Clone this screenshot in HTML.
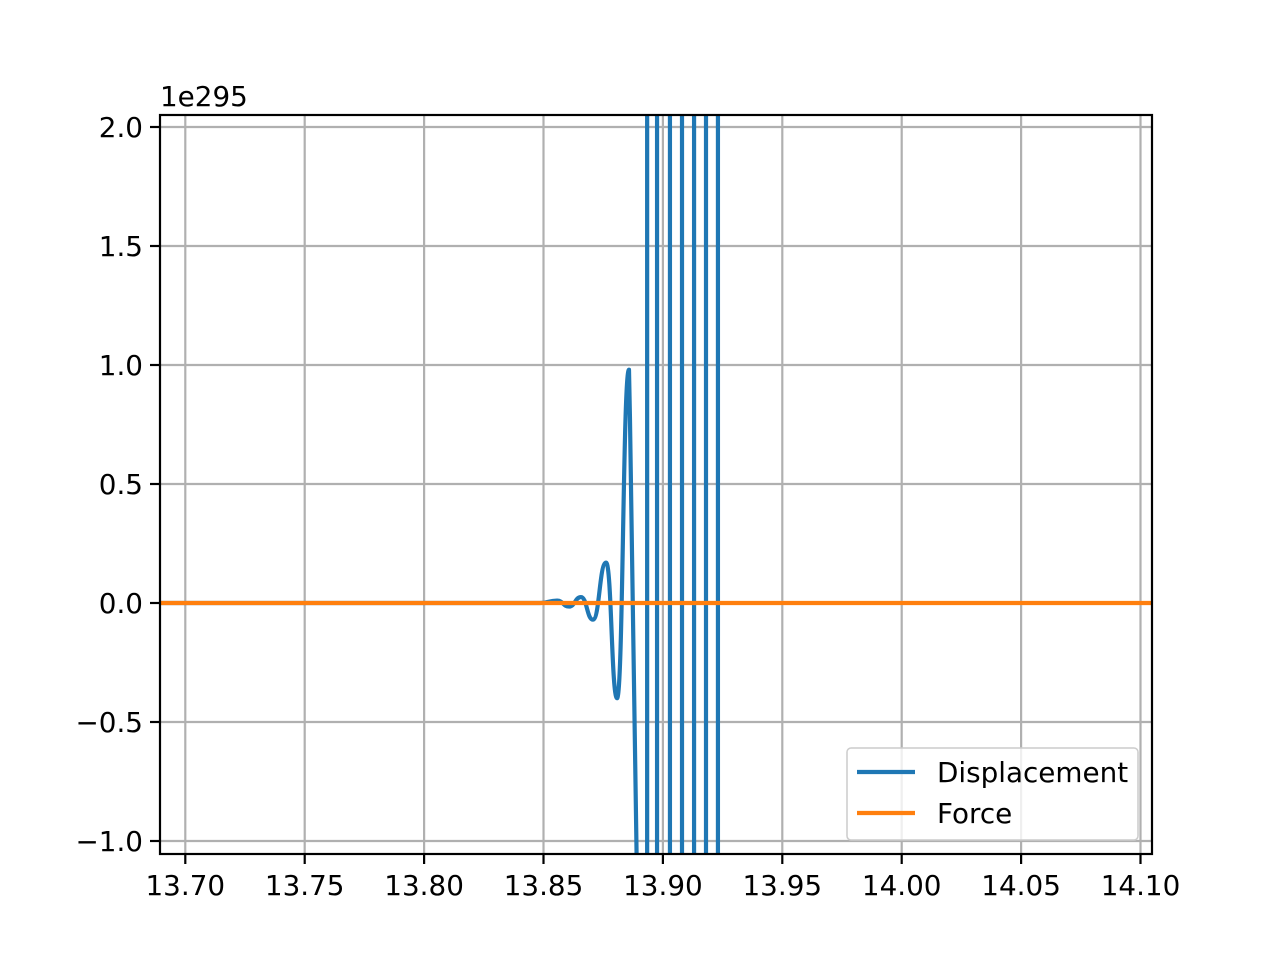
<!DOCTYPE html>
<html><head><meta charset="utf-8"><style>
html,body{margin:0;padding:0;background:#fff;overflow:hidden;width:1280px;height:960px}
svg{display:block}
svg text{font-family:"DejaVu Sans","Liberation Sans",sans-serif;font-size:27.8px;fill:#000}
</style></head><body>
<svg id="chart" width="1280" height="960" xmlns="http://www.w3.org/2000/svg">
<defs><clipPath id="clip"><rect x="160" y="115" width="992" height="739"/></clipPath></defs>
<rect width="1280" height="960" fill="#fff"/>
<g id="grid"></g>
<g id="series" clip-path="url(#clip)"></g>
<rect x="160" y="115" width="992" height="739" fill="none" stroke="#000" stroke-width="2.2"/>
<g id="ticks"></g>
<text x="160" y="106">1e295</text>
<g>
<rect x="847" y="748" width="291" height="92" rx="4" fill="#fff" fill-opacity="0.8" stroke="#ccc" stroke-width="1.5"/>
<line x1="857" y1="772" x2="915" y2="772" stroke="#1f77b4" stroke-width="4.2"/>
<text x="937" y="782">Displacement</text>
<line x1="857" y1="813" x2="915" y2="813" stroke="#ff7f0e" stroke-width="4.2"/>
<text x="937" y="823">Force</text>
</g>
</svg>
<script>
const xTicks=[13.70,13.75,13.80,13.85,13.90,13.95,14.00,14.05,14.10];
const yTicks=[-1.0,-0.5,0.0,0.5,1.0,1.5,2.0];
const yTickLabels=["\u22121.0","\u22120.5","0.0","0.5","1.0","1.5","2.0"];
// smooth (small-amplitude) part of displacement
const dispT=[13.689,13.8485,13.8557,13.8607,13.8657,13.8707,13.8762,13.8808,13.8858];
const dispY=[0,0,0.01,-0.015,0.025,-0.07,0.17,-0.40,0.98];
// divergent part (sampled, straight segments)
const blowT=[13.8862,13.8892,13.8913,13.8955,13.8996,13.9063,13.9097,13.9164,13.9197,13.9264];
const blowY=[0.78,-1.2,-10000,10000,-10000,10000,-10000,10000,-10000,10000];
const forceT=[13.689,14.105];
const forceY=[0,0];
const X=t=>185.3+(t-13.70)*2388;
const Y=v=>603-v*238;
const NS="http://www.w3.org/2000/svg";
function mk(tag,attrs,parent){const e=document.createElementNS(NS,tag);for(const k in attrs)e.setAttribute(k,attrs[k]);parent.appendChild(e);return e;}
const grid=document.getElementById('grid'),ticks=document.getElementById('ticks'),series=document.getElementById('series');
xTicks.forEach(t=>{const x=X(t);
 const g=mk('line',{x1:x,x2:x,y1:115,y2:854,stroke:'#b0b0b0','stroke-width':2.2},grid);
 
 
 mk('line',{x1:x,x2:x,y1:854,y2:864,stroke:'#000','stroke-width':2.2},ticks);
 const tx=mk('text',{x:x,y:895,'text-anchor':'middle'},ticks);tx.textContent=t.toFixed(2);
 
 
});
yTicks.forEach((v,i)=>{const y=Y(v);
 const g=mk('line',{x1:160,x2:1152,y1:y,y2:y,stroke:'#b0b0b0','stroke-width':2.2},grid);
 
 
 mk('line',{x1:150,x2:160,y1:y,y2:y,stroke:'#000','stroke-width':2.2},ticks);
 const tx=mk('text',{x:143,y:y+10,'text-anchor':'end'},ticks);tx.textContent=yTickLabels[i];
 
 
});
let d='M'+X(dispT[0])+','+Y(dispY[0]);
for(let i=1;i<dispT.length;i++){const x0=X(dispT[i-1]),x1=X(dispT[i]),y0=Y(dispY[i-1]),y1=Y(dispY[i]);const h=(x1-x0)/2;
 d+=` C${x0+h},${y0} ${x1-h},${y1} ${x1},${y1}`;}
for(let i=0;i<blowT.length;i++){d+=` L${X(blowT[i])},${Y(blowY[i])}`;}
const dp=mk('path',{d:d,fill:'none',stroke:'#1f77b4','stroke-width':4.2,'stroke-linejoin':'round'},series);


const fp=mk('polyline',{points:forceT.map((t,i)=>X(t)+','+Y(forceY[i])).join(' '),fill:'none',stroke:'#ff7f0e','stroke-width':4.2},series);


</script>
</body></html>
